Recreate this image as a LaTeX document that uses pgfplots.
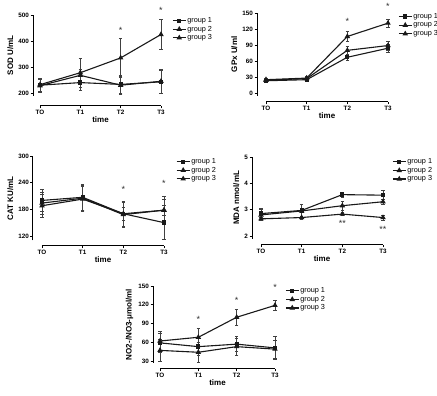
\documentclass[border=0pt]{standalone}
\usepackage{fontspec}
\setmainfont{Liberation Sans}
\usepackage{pgfplots}
\pgfplotsset{compat=1.18}

\pgfplotsset{
 gp/.style={
  scale only axis, clip=false,
  axis x line*=bottom, axis y line*=left,
  xmin=0, xmax=3, xtick={0,1,2,3}, xticklabels={TO,T1,T2,T3},
  tick align=outside, major tick length=2.5pt,
  every tick/.style={black, line width=0.8pt},
  axis line style={black, line width=1pt},
  /pgf/number format/assume math mode=true,
  ticklabel style={font=\bfseries\fontsize{6.3}{7}\selectfont, inner sep=1.5pt},
  label style={font=\bfseries\fontsize{8}{9}\selectfont},
  xlabel={time},
  xlabel style={yshift=3pt},
  legend cell align=left,
  legend style={draw=none, fill=none, font=\fontsize{7.3}{8}\selectfont, anchor=north west, row sep=0pt, inner sep=0pt, nodes={inner sep=1pt}},
  legend image code/.code={\draw[mark repeat=2,mark phase=2,##1] plot coordinates {(0pt,0pt) (6.5pt,0pt) (13pt,0pt)};},
  every axis plot/.append style={black!90, line width=1.1pt},
 },
 g1/.style={mark=square*, mark size=1.6pt, mark options={solid}},
 g2/.style={mark=triangle*, mark size=2.1pt, mark options={solid}},
 g3/.style={mark=triangle*, mark size=2.1pt, mark options={solid}},
 eb/.style={error bars/.cd, y dir=both, y explicit, error bar style={line width=0.6pt, black!75}, error mark options={rotate=90, mark size=1.8pt, line width=0.6pt, black!75}},
}
\tikzset{st/.style={font=\fontsize{9}{9}\selectfont, black!80}}

\begin{document}
\begin{tikzpicture}
\useasboundingbox (0pt,0pt) rectangle (437pt,396pt);

% ---------- SOD ----------
\begin{axis}[gp, at={(40pt,300.4pt)}, anchor=south west, width=121pt, height=80.6pt,
  ymin=190, ymax=500, ytick={200,300,400,500},
  axis x line shift=10.4pt, axis y line shift=7pt,
  ylabel={SOD U/mL},
  legend style={at={(1.091,0.985)}}]
\addplot[g1, eb] coordinates {(0,230) +- (0,25) (1,240) +- (0,30) (2,233) +- (0,35) (3,243) +- (0,45)};
\addplot[g2, eb] coordinates {(0,228) +- (0,25) (1,268) +- (0,25) (2,230) +- (0,36) (3,245) +- (0,47)};
\addplot[g3, eb] coordinates {(0,232) +- (0,25) (1,278) +- (0,57) (2,335) +- (0,75) (3,425) +- (0,57)};
\legend{group 1,group 2,group 3}
\node[st] at (axis cs:2,442) {*};
\node[st] at (axis cs:3,519) {*};
\end{axis}

% ---------- GPx ----------
\begin{axis}[gp, at={(266pt,300.3pt)}, anchor=south west, width=122pt, height=82.7pt,
  ymin=-5, ymax=150, ytick={0,30,60,90,120,150},
  axis x line shift=6.3pt, axis y line shift=9pt,
  ylabel={GPx U/ml},
  legend style={at={(1.082,1.01)}}]
\addplot[g1, eb] coordinates {(0,23) +- (0,3) (1,25) +- (0,3) (2,67) +- (0,5) (3,84) +- (0,8)};
\addplot[g2, eb] coordinates {(0,24) +- (0,3) (1,27) +- (0,3) (2,80) +- (0,8) (3,89) +- (0,8)};
\addplot[g3, eb] coordinates {(0,25) +- (0,3) (1,28) +- (0,3) (2,106) +- (0,9) (3,131) +- (0,8)};
\legend{group 1,group 2,group 3}
\node[st] at (axis cs:2,135) {*};
\node[st] at (axis cs:3,163) {*};
\end{axis}

% ---------- CAT ----------
\begin{axis}[gp, at={(42pt,155.6pt)}, anchor=south west, width=122pt, height=84.4pt,
  ymin=110, ymax=300, ytick={120,180,240,300},
  axis x line shift=5.6pt, axis y line shift=9pt,
  ylabel={CAT KU/mL},
  legend style={at={(1.098,0.985)}}]
\addplot[g1, eb] coordinates {(0,200) +- (0,25) (1,207) +- (0,30) (2,170) +- (0,28) (3,150) += (0,60) -= (0,37)};
\addplot[g2, eb] coordinates {(0,194) +- (0,25) (1,205) +- (0,28) (2,168) +- (0,28) (3,178) +- (0,25)};
\addplot[g3, eb] coordinates {(0,188) +- (0,25) (1,203) +- (0,28) (2,170) +- (0,14) (3,178) +- (0,12)};
\legend{group 1,group 2,group 3}
\node[st] at (axis cs:2,224) {*};
\node[st] at (axis cs:3,238) {*};
\end{axis}

% ---------- MDA ----------
\begin{axis}[gp, at={(261pt,157.4pt)}, anchor=south west, width=122pt, height=81.6pt,
  ymin=1.9, ymax=5, ytick={2,3,4,5},
  axis x line shift=6.4pt, axis y line shift=9pt,
  ylabel={MDA nmol/mL},
  legend style={at={(1.074,0.995)}}]
\addplot[g1, eb] coordinates {(0,2.85) +- (0,0.2) (1,2.97) +- (0,0.25) (2,3.57) +- (0,0.1) (3,3.55) +- (0,0.17)};
\addplot[g2, eb] coordinates {(0,2.80) +- (0,0.2) (1,2.95) +- (0,0.25) (2,3.15) +- (0,0.16) (3,3.30) +- (0,0.1)};
\addplot[g3, eb] coordinates {(0,2.65) +- (0,0.05) (1,2.70) +- (0,0.05) (2,2.83) +- (0,0.06) (3,2.70) +- (0,0.1)};
\legend{group 1,group 2,group 3}
\node[st] at (axis cs:2,2.48) {**};
\node[st] at (axis cs:3,2.25) {**};
\end{axis}

% ---------- NO2/NO3 ----------
\begin{axis}[gp, at={(160pt,33.1pt)}, anchor=south west, width=115pt, height=76.9pt,
  ymin=27, ymax=150, ytick={30,60,90,120,150},
  axis x line shift=6.1pt, axis y line shift=7pt,
  ylabel={NO2-/NO3-μmol/ml},
  legend style={at={(1.087,0.995)}}]
\addplot[g1, eb] coordinates {(0,59) +- (0,15) (1,53) +- (0,14) (2,57) +- (0,12) (3,51) +- (0,18)};
\addplot[g2, eb] coordinates {(0,47) +- (0,17) (1,44) +- (0,16) (2,53) +- (0,14) (3,49) +- (0,14)};
\addplot[g3, eb] coordinates {(0,62) +- (0,15) (1,68) +- (0,15) (2,100) +- (0,13) (3,119) +- (0,8)};
\legend{group 1,group 2,group 3}
\node[st] at (axis cs:1,97) {*};
\node[st] at (axis cs:2,127) {*};
\node[st] at (axis cs:3,148) {*};
\end{axis}
\end{tikzpicture}
\end{document}
